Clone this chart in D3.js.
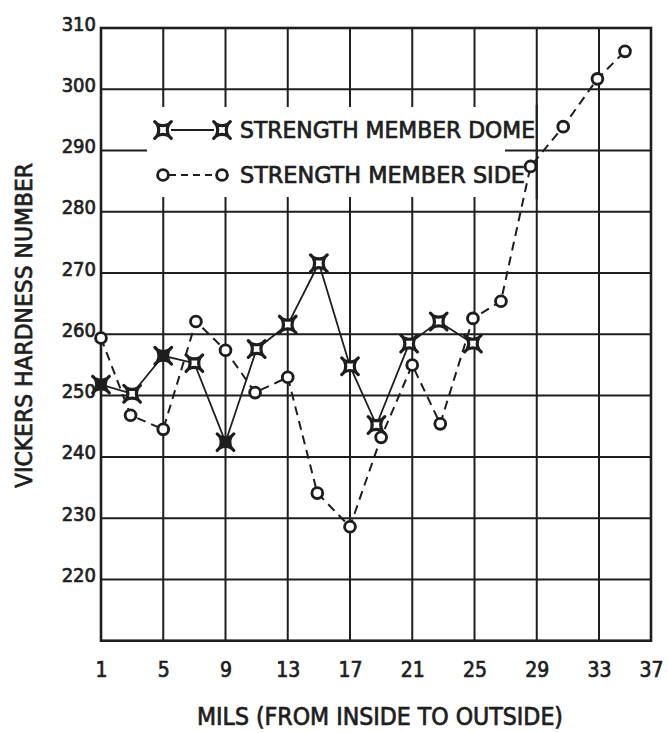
<!DOCTYPE html>
<html>
<head>
<meta charset="utf-8">
<script src="https://cdn.jsdelivr.net/npm/d3@7/dist/d3.min.js"></script>
<style>
  html, body { margin: 0; padding: 0; background: #fff; }
  svg { display: block; }
  text {
    font-family: "DejaVu Sans Condensed", "Liberation Sans Narrow", "DejaVu Sans", sans-serif;
    fill: #1e1e1e; stroke: #1e1e1e; stroke-width: 0.7px; paint-order: stroke;
  }
</style>
</head>
<body>
<script>
// Vickers hardness across the wall thickness (mils from inside to outside)
const xTicks = [1, 5, 9, 13, 17, 21, 25, 29, 33, 37];
const yTicks = [220, 230, 240, 250, 260, 270, 280, 290, 300, 310];

const domeMils     = [1, 3, 5, 7, 9, 11, 13, 15, 17, 18.7, 20.8, 22.7, 24.9];
const domeHardness = [251.8, 250.3, 256.5, 255.3, 242.4, 257.6, 261.6, 271.6, 254.8, 245.2, 258.5, 262.1, 258.5];

const sideMils     = [1, 2.9, 5, 7.1, 9, 10.9, 13, 14.9, 17, 19, 21, 22.8, 24.9, 26.7, 28.6, 30.7, 32.9, 35];
const sideHardness = [259.4, 246.8, 244.5, 262.1, 257.4, 250.5, 253, 234.1, 228.6, 243.2, 255, 245.4, 262.6, 265.4, 287.4, 293.9, 301.7, 306.2];

const seriesNames = ["STRENGTH MEMBER DOME", "STRENGTH MEMBER SIDE"];
const xTitle = "MILS (FROM INSIDE TO OUTSIDE)";
const yTitle = "VICKERS HARDNESS NUMBER";

const W = 668, H = 733;
const ink = "#1e1e1e";

const svg = d3.select("body").append("svg")
  .attr("width", W).attr("height", H)
  .attr("viewBox", `0 0 ${W} ${H}`);

// The last grid column (33–37) is drawn narrower than the others
const x = d3.scaleLinear().domain([1, 33, 37]).range([101, 599, 651]);
const y = d3.scaleLinear().domain([210, 310]).range([640.7, 28]);

const grid = svg.append("g").attr("stroke", ink).attr("stroke-width", 2);

// vertical grid lines
grid.selectAll("line.v")
  .data(xTicks.slice(1, -1))
  .join("line")
  .attr("class", "v")
  .attr("x1", d => x(d)).attr("x2", d => x(d))
  .attr("y1", y(310)).attr("y2", y(210));

// horizontal grid lines
grid.selectAll("line.h")
  .data(yTicks.slice(0, -1))
  .join("line")
  .attr("class", "h")
  .attr("x1", x(1)).attr("x2", x(37))
  .attr("y1", d => y(d)).attr("y2", d => y(d));

// legend panel clears the grid behind it
const legendBox = { x0: 147, x1: 505, y0: 107, y1: 197 };
svg.append("rect")
  .attr("x", legendBox.x0).attr("y", legendBox.y0)
  .attr("width", legendBox.x1 - legendBox.x0)
  .attr("height", legendBox.y1 - legendBox.y0)
  .attr("fill", "#fff");
// the 29-mil line runs through the legend panel
svg.append("line")
  .attr("x1", x(29)).attr("x2", x(29))
  .attr("y1", legendBox.y0 - 2).attr("y2", legendBox.y1 + 2)
  .attr("stroke", ink).attr("stroke-width", 2);

// plot frame
svg.append("rect")
  .attr("x", x(1)).attr("y", y(310))
  .attr("width", x(37) - x(1)).attr("height", y(210) - y(310))
  .attr("fill", "none").attr("stroke", ink).attr("stroke-width", 2.6);

// axes tick labels
const yAxis = d3.axisLeft(y).tickValues(yTicks).tickSize(0).tickPadding(5);
const gy = svg.append("g").attr("transform", `translate(${x(1)},0)`).call(yAxis);
gy.select(".domain").remove();
gy.selectAll("text")
  .attr("font-size", 20).attr("dy", "0.1em").attr("fill", ink)
  .style("font-family", null);

const xAxis = d3.axisBottom(x).tickValues(xTicks).tickFormat(d3.format("d")).tickSize(0).tickPadding(21);
const gx = svg.append("g").attr("transform", `translate(0,${y(210)})`).call(xAxis);
gx.select(".domain").remove();
gx.selectAll("text")
  .attr("font-size", 21).attr("fill", ink)
  .style("font-family", null);

// axis titles
svg.append("text")
  .attr("x", 380).attr("y", 725)
  .attr("text-anchor", "middle")
  .attr("font-size", 24)
  .attr("textLength", 366).attr("lengthAdjust", "spacingAndGlyphs")
  .text(xTitle);

svg.append("text")
  .attr("transform", "translate(32,325.5) rotate(-90)")
  .attr("text-anchor", "middle")
  .attr("font-size", 23)
  .attr("textLength", 325).attr("lengthAdjust", "spacingAndGlyphs")
  .text(yTitle);

// marker shapes
const s = 5.8;
const starPath =
  `M${-s},${-s} Q0,${-s + 3} ${s},${-s} Q${s - 3},0 ${s},${s} Q0,${s - 3} ${-s},${s} Q${-s + 3},0 ${-s},${-s} Z` +
  `M${s - 1},${-s + 1} L${s + 2.5},${-s - 2.5} M${s - 1},${s - 1} L${s + 2.5},${s + 2.5}` +
  `M${-s + 1},${s - 1} L${-s - 2.5},${s + 2.5} M${-s + 1},${-s + 1} L${-s - 2.5},${-s - 2.5}`;
const solidStars = new Set([1, 5, 9]);

function drawStar(g, cx, cy, solid) {
  g.append("path")
    .attr("d", starPath)
    .attr("transform", `translate(${cx},${cy})`)
    .attr("fill", solid ? ink : "#fff")
    .attr("stroke", ink).attr("stroke-width", 3.2)
    .attr("stroke-linejoin", "round").attr("stroke-linecap", "round");
}
function drawCircle(g, cx, cy) {
  g.append("circle")
    .attr("cx", cx).attr("cy", cy).attr("r", 5.4)
    .attr("fill", "#fff")
    .attr("stroke", ink).attr("stroke-width", 2.9);
}

const dome = d3.zip(domeMils, domeHardness);
const side = d3.zip(sideMils, sideHardness);
const line = d3.line().x(d => x(d[0])).y(d => y(d[1]));

const plot = svg.append("g");

// series lines
plot.append("path")
  .attr("d", line(side))
  .attr("fill", "none").attr("stroke", ink)
  .attr("stroke-width", 2).attr("stroke-dasharray", "9,6");
plot.append("path")
  .attr("d", line(dome))
  .attr("fill", "none").attr("stroke", ink)
  .attr("stroke-width", 1.8);

// series markers
side.forEach(d => drawCircle(plot, x(d[0]), y(d[1])));
dome.forEach(d => drawStar(plot, x(d[0]), y(d[1]), solidStars.has(d[0])));

// legend
const legend = svg.append("g");
const lx0 = 163, lx1 = 222, ly = [130, 175];
legend.append("line")
  .attr("x1", lx0 + 8).attr("x2", lx1 - 8).attr("y1", ly[0]).attr("y2", ly[0])
  .attr("stroke", ink).attr("stroke-width", 1.8);
drawStar(legend, lx0, ly[0], false);
drawStar(legend, lx1, ly[0], false);
legend.append("line")
  .attr("x1", lx0 + 6).attr("x2", lx1 - 6).attr("y1", ly[1]).attr("y2", ly[1])
  .attr("stroke", ink).attr("stroke-width", 2).attr("stroke-dasharray", "7,5");
drawCircle(legend, lx0, ly[1]);
drawCircle(legend, lx1, ly[1]);

legend.append("text")
  .attr("x", 240).attr("y", ly[0] + 8)
  .attr("font-size", 23)
  .attr("textLength", 295).attr("lengthAdjust", "spacingAndGlyphs")
  .text(seriesNames[0]);
legend.append("text")
  .attr("x", 240).attr("y", ly[1] + 8)
  .attr("font-size", 23)
  .attr("textLength", 285).attr("lengthAdjust", "spacingAndGlyphs")
  .text(seriesNames[1]);
</script>
</body>
</html>
